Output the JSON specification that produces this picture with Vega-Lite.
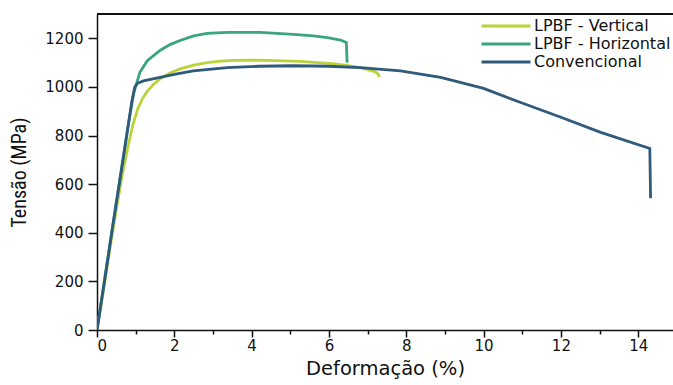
{
  "$schema": "https://vega.github.io/schema/vega-lite/v6.json",
  "width": 576,
  "height": 316,
  "autosize": "none",
  "padding": {"left": 97, "top": 14, "right": 0, "bottom": 55},
  "background": "white",
  "config": {"view": {"stroke": null}},
  "data": {"values": [
    {"s": "LPBF - Vertical", "i": 0, "x": 0, "y": 0},
    {"s": "LPBF - Vertical", "i": 1, "x": 0.2, "y": 195},
    {"s": "LPBF - Vertical", "i": 2, "x": 0.4, "y": 400},
    {"s": "LPBF - Vertical", "i": 3, "x": 0.52, "y": 515},
    {"s": "LPBF - Vertical", "i": 4, "x": 0.65, "y": 635},
    {"s": "LPBF - Vertical", "i": 5, "x": 0.8, "y": 752},
    {"s": "LPBF - Vertical", "i": 6, "x": 0.92, "y": 840},
    {"s": "LPBF - Vertical", "i": 7, "x": 1.05, "y": 908},
    {"s": "LPBF - Vertical", "i": 8, "x": 1.17, "y": 950},
    {"s": "LPBF - Vertical", "i": 9, "x": 1.3, "y": 982},
    {"s": "LPBF - Vertical", "i": 10, "x": 1.45, "y": 1009},
    {"s": "LPBF - Vertical", "i": 11, "x": 1.63, "y": 1033},
    {"s": "LPBF - Vertical", "i": 12, "x": 1.9, "y": 1058},
    {"s": "LPBF - Vertical", "i": 13, "x": 2.15, "y": 1074},
    {"s": "LPBF - Vertical", "i": 14, "x": 2.5, "y": 1090},
    {"s": "LPBF - Vertical", "i": 15, "x": 2.85, "y": 1100},
    {"s": "LPBF - Vertical", "i": 16, "x": 3.2, "y": 1106},
    {"s": "LPBF - Vertical", "i": 17, "x": 3.52, "y": 1109},
    {"s": "LPBF - Vertical", "i": 18, "x": 4.0, "y": 1110},
    {"s": "LPBF - Vertical", "i": 19, "x": 4.4, "y": 1109},
    {"s": "LPBF - Vertical", "i": 20, "x": 4.8, "y": 1107},
    {"s": "LPBF - Vertical", "i": 21, "x": 5.26, "y": 1105},
    {"s": "LPBF - Vertical", "i": 22, "x": 5.7, "y": 1100},
    {"s": "LPBF - Vertical", "i": 23, "x": 6.1, "y": 1096},
    {"s": "LPBF - Vertical", "i": 24, "x": 6.5, "y": 1088},
    {"s": "LPBF - Vertical", "i": 25, "x": 6.9, "y": 1076},
    {"s": "LPBF - Vertical", "i": 26, "x": 7.2, "y": 1062},
    {"s": "LPBF - Vertical", "i": 27, "x": 7.28, "y": 1052},
    {"s": "LPBF - Vertical", "i": 28, "x": 7.3, "y": 1040},
    {"s": "LPBF - Horizontal", "i": 0, "x": 0, "y": 0},
    {"s": "LPBF - Horizontal", "i": 1, "x": 0.2, "y": 212},
    {"s": "LPBF - Horizontal", "i": 2, "x": 0.4, "y": 422},
    {"s": "LPBF - Horizontal", "i": 3, "x": 0.6, "y": 630},
    {"s": "LPBF - Horizontal", "i": 4, "x": 0.8, "y": 835},
    {"s": "LPBF - Horizontal", "i": 5, "x": 0.95, "y": 975},
    {"s": "LPBF - Horizontal", "i": 6, "x": 1.03, "y": 1018},
    {"s": "LPBF - Horizontal", "i": 7, "x": 1.11, "y": 1060},
    {"s": "LPBF - Horizontal", "i": 8, "x": 1.3, "y": 1108},
    {"s": "LPBF - Horizontal", "i": 9, "x": 1.63, "y": 1150},
    {"s": "LPBF - Horizontal", "i": 10, "x": 1.9, "y": 1175},
    {"s": "LPBF - Horizontal", "i": 11, "x": 2.15, "y": 1191},
    {"s": "LPBF - Horizontal", "i": 12, "x": 2.5, "y": 1210},
    {"s": "LPBF - Horizontal", "i": 13, "x": 2.85, "y": 1220},
    {"s": "LPBF - Horizontal", "i": 14, "x": 3.37, "y": 1224},
    {"s": "LPBF - Horizontal", "i": 15, "x": 4.22, "y": 1224},
    {"s": "LPBF - Horizontal", "i": 16, "x": 5.08, "y": 1216},
    {"s": "LPBF - Horizontal", "i": 17, "x": 5.6, "y": 1210},
    {"s": "LPBF - Horizontal", "i": 18, "x": 5.96, "y": 1203},
    {"s": "LPBF - Horizontal", "i": 19, "x": 6.3, "y": 1193},
    {"s": "LPBF - Horizontal", "i": 20, "x": 6.45, "y": 1183},
    {"s": "LPBF - Horizontal", "i": 21, "x": 6.47, "y": 1100},
    {"s": "Convencional", "i": 0, "x": 0, "y": 0},
    {"s": "Convencional", "i": 1, "x": 0.2, "y": 208},
    {"s": "Convencional", "i": 2, "x": 0.4, "y": 420},
    {"s": "Convencional", "i": 3, "x": 0.6, "y": 625},
    {"s": "Convencional", "i": 4, "x": 0.75, "y": 780},
    {"s": "Convencional", "i": 5, "x": 0.9, "y": 940},
    {"s": "Convencional", "i": 6, "x": 0.98, "y": 1000},
    {"s": "Convencional", "i": 7, "x": 1.05, "y": 1015},
    {"s": "Convencional", "i": 8, "x": 1.2, "y": 1025},
    {"s": "Convencional", "i": 9, "x": 1.63, "y": 1039},
    {"s": "Convencional", "i": 10, "x": 2.0, "y": 1052},
    {"s": "Convencional", "i": 11, "x": 2.49, "y": 1066},
    {"s": "Convencional", "i": 12, "x": 3.37, "y": 1079},
    {"s": "Convencional", "i": 13, "x": 4.2, "y": 1085},
    {"s": "Convencional", "i": 14, "x": 5.08, "y": 1087},
    {"s": "Convencional", "i": 15, "x": 6.0, "y": 1085},
    {"s": "Convencional", "i": 16, "x": 6.81, "y": 1079},
    {"s": "Convencional", "i": 17, "x": 7.85, "y": 1066},
    {"s": "Convencional", "i": 18, "x": 8.89, "y": 1039},
    {"s": "Convencional", "i": 19, "x": 10.0, "y": 994},
    {"s": "Convencional", "i": 20, "x": 10.96, "y": 936},
    {"s": "Convencional", "i": 21, "x": 12.0, "y": 875},
    {"s": "Convencional", "i": 22, "x": 13.03, "y": 813},
    {"s": "Convencional", "i": 23, "x": 14.3, "y": 747},
    {"s": "Convencional", "i": 24, "x": 14.32, "y": 542}
  ]},
  "layer": [
    {
      "mark": {"type": "rule", "color": "#111111", "strokeWidth": 1.5},
      "encoding": {"y": {"datum": 1300, "type": "quantitative", "scale": {"domain": [0, 1300]}}}
    },
    {
      "mark": {"type": "line", "strokeWidth": 2.8, "clip": true},
      "encoding": {
        "x": {
          "field": "x", "type": "quantitative",
          "scale": {"domain": [0, 14.9], "nice": false, "zero": false},
          "axis": {
            "title": "Deformação (%)",
            "values": [0,1,2,3,4,5,6,7,8,9,10,11,12,13,14],
            "labelExpr": "datum.value % 2 === 0 ? datum.label : ''",
            "tickSize": {"condition": {"test": "datum.value % 2 === 0", "value": 7}, "value": 4},
            "grid": false,
            "domainColor": "#111111", "domainWidth": 1.5,
            "tickColor": "#111111", "tickWidth": 1.5,
            "labelFont": "DejaVu Sans", "labelFontSize": 15, "labelColor": "#111111", "labelPadding": 1,
            "titleFont": "DejaVu Sans", "titleFontSize": 19.5, "titleFontWeight": "normal", "titleColor": "#111111", "titlePadding": 6
          }
        },
        "y": {
          "field": "y", "type": "quantitative",
          "scale": {"domain": [0, 1300], "nice": false},
          "axis": {
            "title": "Tensão (MPa)",
            "values": [0,100,200,300,400,500,600,700,800,900,1000,1100,1200],
            "labelExpr": "datum.value % 200 === 0 ? datum.label : ''",
            "format": "d",
            "tickSize": {"condition": {"test": "datum.value % 200 === 0", "value": 9}, "value": 5},
            "grid": false,
            "domainColor": "#111111", "domainWidth": 1.5,
            "tickColor": "#111111", "tickWidth": 1.5,
            "labelFont": "DejaVu Sans", "labelFontSize": 15, "labelColor": "#111111", "labelPadding": 5,
            "titleFont": "Liberation Sans Narrow, Roboto Condensed, Roboto", "titleFontSize": 20, "titleFontWeight": "normal", "titleColor": "#111111", "titlePadding": 15
          }
        },
        "color": {
          "field": "s", "type": "nominal",
          "scale": {"domain": ["LPBF - Vertical", "LPBF - Horizontal", "Convencional"], "range": ["#b9d43a", "#3aa57c", "#2f5a7c"]},
          "legend": {
            "title": null,
            "orient": "none",
            "legendX": 401,
            "legendY": 4,
            "symbolType": "M-4,0H4",
            "symbolSize": 150,
            "symbolStrokeWidth": 3,
            "labelFont": "DejaVu Sans",
            "labelFontSize": 16,
            "labelColor": "#111111",
            "rowPadding": 2,
            "labelOffset": 20
          }
        },
        "order": {"field": "i", "type": "quantitative"}
      }
    }
  ]
}
